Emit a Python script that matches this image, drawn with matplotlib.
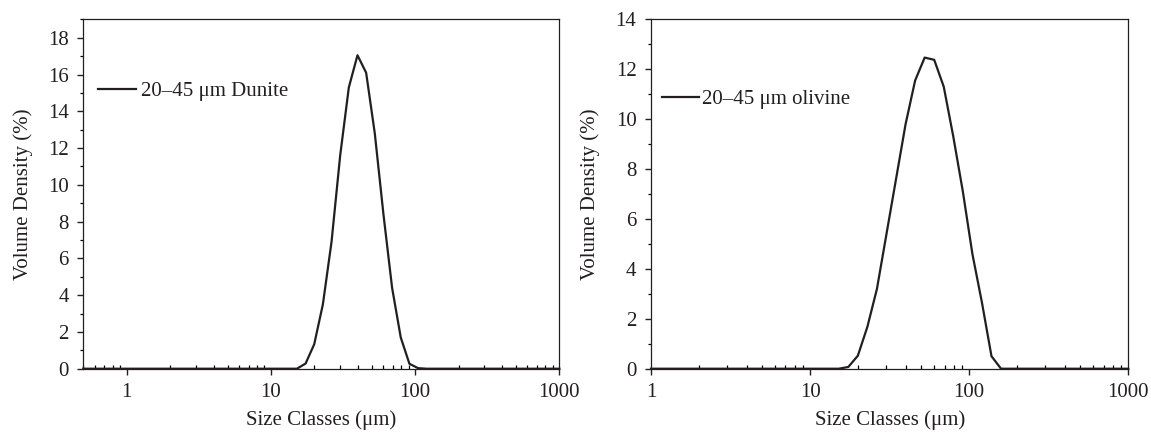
# Particle size distributions, dunite vs olivine (20-45 um fraction)
import numpy as np
import matplotlib
matplotlib.use('Agg')
import matplotlib.pyplot as plt
from matplotlib.ticker import LogLocator, MultipleLocator, NullFormatter

plt.rcParams['font.family'] = ['Liberation Serif', 'DejaVu Serif']
ink = '#231f20'
fs = 15

# size classes (um), log spaced like the analyser bins
dunite_size = [0.5, 15.136, 17.378, 19.953, 22.909, 26.303, 30.200, 34.674, 39.811,
               45.709, 52.481, 60.256, 69.183, 79.433, 91.201, 104.713, 120.226, 1000]
dunite_vol = [0, 0, 0.28, 1.33, 3.5, 6.9, 11.6, 15.3, 17.05,
              16.1, 12.8, 8.4, 4.4, 1.7, 0.27, 0.03, 0, 0]

olivine_size = [1, 15.136, 17.378, 19.953, 22.909, 26.303, 30.200, 34.674, 39.811,
                45.709, 52.481, 60.256, 69.183, 79.433, 91.201, 104.713, 120.226,
                138.038, 158.489, 1000]
olivine_vol = [0, 0, 0.07, 0.52, 1.68, 3.2, 5.4, 7.6, 9.8,
               11.55, 12.47, 12.38, 11.3, 9.3, 7.1, 4.6, 2.65,
               0.5, 0, 0]

xticks = [1, 10, 100, 1000]
xticklabels = ['1', '10', '100', '1000']

fig = plt.figure(figsize=(11.51, 4.32), dpi=100)
ax1 = fig.add_axes([0.0724, 0.1465, 0.4136, 0.8086])
ax2 = fig.add_axes([0.5656, 0.1465, 0.4147, 0.8086])


def style(ax, xlim, ylim, ymaj):
    ax.set_xscale('log')
    ax.set_xlim(*xlim)
    ax.set_ylim(*ylim)
    ax.set_xticks(xticks)
    ax.set_xticklabels(xticklabels)
    ax.xaxis.set_minor_locator(LogLocator(base=10, subs=np.arange(2, 10)))
    ax.xaxis.set_minor_formatter(NullFormatter())
    ax.yaxis.set_major_locator(MultipleLocator(ymaj))
    ax.yaxis.set_minor_locator(MultipleLocator(1))
    for s in ax.spines.values():
        s.set_color(ink)
        s.set_linewidth(0.9)
    ax.tick_params(axis='both', which='major', labelsize=fs, colors=ink)
    ax.tick_params(axis='x', which='major', direction='out', length=4, width=1, pad=6)
    ax.tick_params(axis='x', which='minor', direction='in', length=3, width=0.9)
    ax.tick_params(axis='y', which='major', direction='out', length=4.5, width=1, pad=6)
    ax.tick_params(axis='y', which='minor', direction='out', length=2.5, width=0.9)
    ax.set_xlabel('Size Classes (μm)', fontsize=fs, color=ink, labelpad=6)
    ax.set_ylabel('Volume Density (%)', fontsize=fs, color=ink, labelpad=11)


ax1.plot(dunite_size, dunite_vol, color=ink, lw=1.6, label='20–45 μm Dunite', clip_on=False)
style(ax1, (0.5, 1000), (0, 19), 2)
ax1.legend(loc='center left', bbox_to_anchor=(0.031, 0.795), frameon=False,
           borderpad=0, borderaxespad=0, handlelength=1.8, handletextpad=0.25,
           prop={'size': fs}, labelcolor=ink)

ax2.plot(olivine_size, olivine_vol, color=ink, lw=1.6, label='20–45 μm olivine', clip_on=False)
style(ax2, (1, 1000), (0, 14), 2)
ax2.legend(loc='center left', bbox_to_anchor=(0.0224, 0.772), frameon=False,
           borderpad=0, borderaxespad=0, handlelength=1.8, handletextpad=0.15,
           prop={'size': fs}, labelcolor=ink)

fig.savefig('out.png', dpi=100)
